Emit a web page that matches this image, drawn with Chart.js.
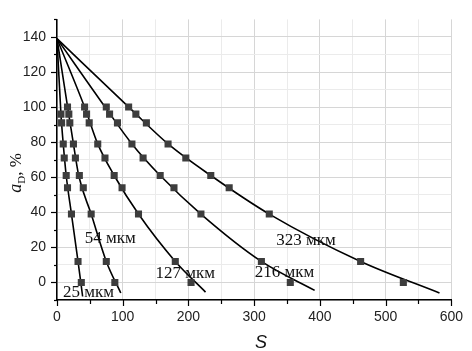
<!DOCTYPE html>
<html lang="ru">
<head>
<meta charset="UTF-8">
<title>a_D vs S</title>
<script src="https://cdn.jsdelivr.net/npm/chart.js"></script>
<style>
  html, body { margin: 0; padding: 0; background: #fff; }
  #wrap { width: 472px; height: 351px; }
</style>
</head>
<body>
<div id="wrap"><canvas id="chart" width="472" height="351"></canvas></div>
<script>
  // measured points, S and a_D (%)
  const s25 = [6, 7, 9.5, 11, 14, 16, 22, 32, 37];
  const a25 = [96, 91, 79, 71, 61, 54, 39, 12, 0];
  const s54 = [16, 18, 19.5, 25, 28, 34, 40, 52, 75, 88];
  const a54 = [100, 96, 91, 79, 71, 61, 54, 39, 12, 0];
  const s127 = [42, 45, 49, 62, 73, 87, 99, 124, 180, 204];
  const a127 = [100, 96, 91, 79, 71, 61, 54, 39, 12, 0];
  const s216 = [75, 80, 92, 114, 131, 157, 178, 219, 311, 355];
  const a216 = [100, 96, 91, 79, 71, 61, 54, 39, 12, 0];
  const s323 = [109, 120, 136, 169, 196, 234, 262, 323, 462, 527];
  const a323 = [100, 96, 91, 79, 71, 61, 54, 39, 12, 0];

  // fitted curves
  const fitS25 = [0, 6, 9.5, 14, 22, 32, 39];
  const fitA25 = [139, 96, 79, 61, 39, 12, -8];
  const fitS54 = [0, 17, 25, 33, 52, 75, 97];
  const fitA54 = [139, 98, 79, 61, 39, 12, -6];
  const fitS127 = [0, 43, 62, 87, 124, 180, 226];
  const fitA127 = [139, 99, 79, 61, 39, 12, -5.5];
  const fitS216 = [0, 77, 114, 157, 219, 311, 392];
  const fitA216 = [139, 98, 79, 61, 39, 12, -4.5];
  const fitS323 = [0, 112, 169, 234, 323, 462, 582];
  const fitA323 = [139, 99, 79, 61, 39, 12, -6];

  const curveLabels = ['25 мкм', '54 мкм', '127 мкм', '216 мкм', '323 мкм'];
  const labelS = [48, 81, 195, 346, 379];
  const labelA = [-6, 25, 5, 5.5, 24];

  const xTickLabels = [0, 100, 200, 300, 400, 500, 600];
  const yTickLabels = [0, 20, 40, 60, 80, 100, 120, 140];

  const toPts = (xs, ys) => xs.map((x, i) => ({ x: x, y: ys[i] }));

  function markers(xs, ys) {
    return {
      data: toPts(xs, ys), showLine: false,
      pointStyle: 'rect', pointRadius: 5, pointHoverRadius: 5,
      backgroundColor: '#3d3d3d', borderColor: '#3d3d3d', borderWidth: 0
    };
  }
  function fit(xs, ys) {
    return {
      data: toPts(xs, ys), showLine: true, pointRadius: 0,
      borderColor: '#000', borderWidth: 1.6, cubicInterpolationMode: 'monotone'
    };
  }

  // short outward ticks, plus titles and curve labels
  const decor = {
    id: 'decor',
    afterDraw(chart) {
      const c = chart.ctx, xs = chart.scales.x, ys = chart.scales.y;
      c.save();
      c.strokeStyle = '#000';
      c.lineWidth = 1.2;
      for (let v = -10; v <= 150; v += 10) {
        const py = Math.round(ys.getPixelForValue(v)) + 0.5;
        const len = v % 20 === 0 ? 6 : 3;
        c.beginPath(); c.moveTo(xs.left - len, py); c.lineTo(xs.left, py); c.stroke();
      }
      for (let v = 0; v <= 600; v += 50) {
        const px = Math.round(xs.getPixelForValue(v)) + 0.5;
        const len = v % 100 === 0 ? 6 : 4;
        c.beginPath(); c.moveTo(px, ys.bottom); c.lineTo(px, ys.bottom + len); c.stroke();
      }

      c.fillStyle = '#111';
      c.font = '17px "Liberation Serif"';
      c.textAlign = 'center';
      c.textBaseline = 'middle';
      curveLabels.forEach((t, i) => {
        c.fillText(t, xs.getPixelForValue(labelS[i]), ys.getPixelForValue(labelA[i]));
      });

      // x title
      c.font = 'italic 18px "Liberation Sans"';
      c.fillText('S', 261, 343);

      // y title: a_D, %
      c.translate(21, 173);
      c.rotate(-Math.PI / 2);
      c.textAlign = 'left';
      c.textBaseline = 'alphabetic';
      const fA = 'italic 18px "Liberation Serif"', fD = '11px "Liberation Serif"', fR = '17px "Liberation Serif"';
      c.font = fA; const wA = c.measureText('a').width;
      c.font = fD; const wD = c.measureText('D').width;
      c.font = fR; const wR = c.measureText(', %').width;
      let x0 = -(wA + wD + wR) / 2;
      c.font = fA; c.fillText('a', x0, 0); x0 += wA;
      c.font = fD; c.fillText('D', x0, 4); x0 += wD;
      c.font = fR; c.fillText(', %', x0, 0);
      c.restore();
    }
  };

  new Chart(document.getElementById('chart'), {
    type: 'scatter',
    data: {
      datasets: [
        markers(s25, a25), markers(s54, a54), markers(s127, a127), markers(s216, a216), markers(s323, a323),
        fit(fitS25, fitA25), fit(fitS54, fitA54), fit(fitS127, fitA127), fit(fitS216, fitA216), fit(fitS323, fitA323)
      ]
    },
    options: {
      responsive: false, animation: false,
      layout: { padding: { top: 3, right: 14, left: 0, bottom: 0 } },
      plugins: { legend: { display: false }, tooltip: { enabled: false } },
      scales: {
        x: {
          type: 'linear', min: 0, max: 600,
          afterFit: s => { s.height = 51; },
          ticks: {
            stepSize: 50, padding: 9, color: '#222', autoSkip: false, maxRotation: 0,
            font: { family: 'Liberation Sans', size: 14 },
            callback: v => xTickLabels.includes(v) ? v : ''
          },
          grid: {
            drawTicks: false,
            color: ctx => ctx.tick && ctx.tick.value % 100 === 0 ? '#d6d6d6' : '#ebebeb'
          },
          border: { color: '#000', width: 1.5 }
        },
        y: {
          type: 'linear', min: -10, max: 150,
          afterFit: s => { s.width = 57; },
          ticks: {
            stepSize: 10, padding: 11, color: '#222', autoSkip: false,
            font: { family: 'Liberation Sans', size: 14 },
            callback: v => yTickLabels.includes(v) ? v : ''
          },
          grid: {
            drawTicks: false,
            color: ctx => {
              const v = ctx.tick ? ctx.tick.value : 0;
              if (v === 150) return 'rgba(0,0,0,0)';
              return v % 20 === 0 ? '#d6d6d6' : '#ebebeb';
            }
          },
          border: { color: '#000', width: 1.5 }
        }
      }
    },
    plugins: [decor]
  });
</script>
</body>
</html>
